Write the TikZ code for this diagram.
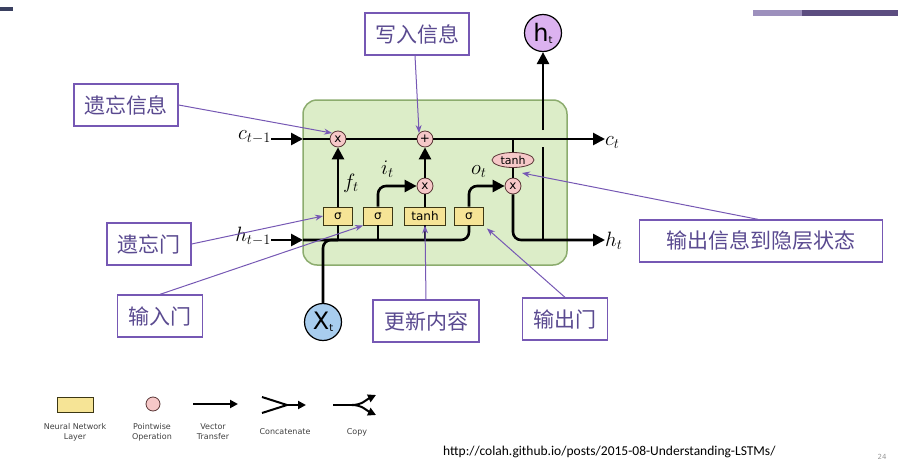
\documentclass[tikz,border=0pt]{standalone}
\usepackage{fontspec}
\setsansfont{DejaVu Sans}
\newfontfamily\cjk{Noto Sans CJK SC}
\newfontfamily\carlito{Carlito}
\usetikzlibrary{calc, arrows.meta, shapes.geometric}
\definecolor{cellgreen}{RGB}{220,237,200}
\definecolor{cellline}{RGB}{140,172,110}
\definecolor{layerfill}{RGB}{246,228,150}
\definecolor{layerline}{RGB}{60,55,20}
\definecolor{opfill}{RGB}{246,200,200}
\definecolor{opline}{RGB}{90,55,55}
\definecolor{xblue}{RGB}{168,205,238}
\definecolor{hlilac}{RGB}{220,178,240}
\definecolor{notepurple}{RGB}{118,88,180}
\definecolor{notetext}{RGB}{90,74,144}
\definecolor{barlight}{RGB}{157,144,189}
\definecolor{bardark}{RGB}{92,77,128}
\definecolor{topnavy}{RGB}{58,64,96}
\tikzset{
  cellbase/.style={draw=cellline, fill=cellgreen, line width=1.5pt, rounded corners=14pt,
    minimum width=264pt, minimum height=165pt, inner sep=0pt},
  layerbox/.style={draw=layerline, fill=layerfill, line width=0.9pt, minimum width=29pt,
    minimum height=18pt, inner sep=0pt, font=\sffamily\fontsize{12}{12}\selectfont},
  opbase/.style={circle, draw=opline, fill=opfill, line width=0.8pt, minimum size=16pt,
    inner sep=0pt, font=\sffamily\fontsize{12}{12}\selectfont},
  tanhop/.style={ellipse, draw=opline, fill=opfill, line width=0.8pt, minimum width=42pt,
    minimum height=15pt, inner sep=0pt, font=\sffamily\fontsize{11}{11}\selectfont},
  inbase/.style={circle, draw=black, line width=1.2pt, minimum size=37pt, inner sep=0pt,
    font=\sffamily},
  mathlabel/.style={inner sep=0pt, font=\fontsize{20.74}{24}\selectfont},
  flowline/.style={line width=2.6pt, rounded corners=8pt},
  flowarrow/.style={flowline, -{Triangle[length=12pt, width=12pt]}},
  notebox/.style={draw=notepurple, fill=white, line width=1.3pt, text=notetext,
    minimum height=42pt, inner xsep=10pt, font=\cjk\fontsize{21}{21}\selectfont},
  notearrow/.style={draw=notepurple, line width=1pt, -{Stealth[length=8pt, width=6pt]}},
  legendline/.style={line width=2pt},
  legendarrow/.style={legendline, -{Triangle[length=8pt, width=8pt]}},
  legendtext/.style={align=center, font=\sffamily\fontsize{8}{10}\selectfont, text=black!75},
}
\newcommand{\invar}[2]{{\fontsize{24}{24}\selectfont #1}\raisebox{-2pt}{\fontsize{10}{10}\selectfont #2}}

\begin{document}
\begin{tikzpicture}[x=1pt, y=-1pt]
  \useasboundingbox (0,0) rectangle (898,474);
  \fill[topnavy] (0,7) rectangle (13,11);
  \fill[barlight] (753,10) rectangle (802,16);
  \fill[bardark] (802,10) rectangle (898,16);

  \node[cellbase] (cell) at (435,182.5) {};

  \node[mathlabel, anchor=base east] (ctm1) at (271,139) {$c_{t-1}$};
  \node[mathlabel, anchor=base east] (htm1) at (271,241) {$h_{t-1}$};
  \node[mathlabel, anchor=base west] (ct) at (605,145) {$c_t$};
  \node[mathlabel, anchor=base west] (ht) at (605,246) {$h_t$};
  \node[mathlabel, anchor=base west] (ft) at (343,188) {$f_t$};
  \node[mathlabel, anchor=base west] (it) at (381,174) {$i_t$};
  \node[mathlabel, anchor=base west] (ot) at (471,174) {$o_t$};

  \node[opbase] (fx) at (338,139) {x};
  \node[opbase] (addp) at (425,139) {+};
  \node[opbase] (ix) at (425,186) {x};
  \node[opbase] (ox) at (513,186) {x};
  \node[tanhop] (tanhc) at (513,160) {tanh};

  \node[layerbox] (sgf) at (338,216) {σ};
  \node[layerbox] (sgi) at (378,216) {σ};
  \node[layerbox, minimum width=41pt] (tnh) at (425,216) {tanh};
  \node[layerbox] (sgo) at (469,216) {σ};

  \node[inbase, fill=xblue] (xt) at (323,322) {\invar{X}{t}};
  \node[inbase, fill=hlilac] (hout) at (543,33) {\invar{h}{t}};

  \coordinate (cleft) at (303,139);
  \coordinate (hleft) at (303,240);
  \coordinate (ctap) at (513,139);
  \coordinate (hjoin) at (543,240);

  \draw[flowarrow] (ctm1.east |- cleft) -- (cleft);
  \draw[flowline] (cleft) -- (fx);
  \draw[flowline] (fx) -- (addp);
  \draw[flowarrow] (addp) -- (ct.west |- addp);
  \draw[flowline] (ctap) -- (tanhc);
  \draw[flowline] (tanhc) -- (ox);
  \draw[flowarrow] (ox) -- (ox |- hleft) -- (ht.west |- hleft);
  \draw[flowline] (hjoin) -- ++(0,-93);
  \draw[flowarrow] (hjoin |- 0,130) -- (hout);

  \draw[flowarrow] (htm1.east |- hleft) -- (hleft);
  \draw[flowline] (hleft) -- (sgo |- hleft) -- (sgo.south);
  \draw[flowline] (xt) -- (xt |- hleft) -- (sgf |- hleft);
  \draw[flowline] (sgf |- hleft) -- (sgf.south);
  \draw[flowline] (sgi |- hleft) -- (sgi.south);
  \draw[flowline] (tnh |- hleft) -- (tnh.south);
  \draw[flowarrow] (sgf) -- (fx);
  \draw[flowarrow] (sgi) -- (sgi |- ix) -- (ix);
  \draw[flowline] (tnh) -- (ix);
  \draw[flowarrow] (ix) -- (addp);
  \draw[flowarrow] (sgo) -- (sgo |- ix) -- (ox);

  \node[notebox, minimum width=104pt] (nforget) at (126,105) {遗忘信息};
  \node[notebox, minimum width=104pt] (nwrite) at (417,34) {写入信息};
  \node[notebox, minimum width=84pt] (nfgate) at (149,244) {遗忘门};
  \node[notebox, minimum width=85pt] (nigate) at (160,316) {输入门};
  \node[notebox, minimum width=106pt] (nupdate) at (426,321) {更新内容};
  \node[notebox, minimum width=85pt] (nogate) at (565,319) {输出门};
  \node[notebox, minimum width=243pt] (nhidden) at (761,241) {输出信息到隐层状态};

  \draw[notearrow] (nforget.east) -- (fx.north west);
  \draw[notearrow] ([xshift=-2pt]nwrite.south) -- (addp.north west);
  \draw[notearrow] (nfgate.east) -- (sgf.west);
  \draw[notearrow] (nigate.north) -- (sgi.south west);
  \draw[notearrow] (nupdate.north) -- (tnh.south);
  \draw[notearrow] (nogate.north) -- ([xshift=3pt,yshift=-3pt]sgo.south east);
  \draw[notearrow] ([xshift=-3pt]nhidden.north) -- ([xshift=9pt,yshift=13pt]ox.center);

  \node[layerbox, minimum width=36pt, minimum height=15pt] (lglayer) at (75,405) {};
  \node[opbase, minimum size=14pt] (lgop) at (153,404) {};
  \coordinate (lgvs) at (193,404);
  \coordinate (lgve) at (238,404);
  \coordinate (lgca) at (262,397);
  \coordinate (lgcb) at (262,413);
  \coordinate (lgcm) at (287,405);
  \coordinate (lgce) at (306,405);
  \coordinate (lgps) at (333,405);
  \coordinate (lgpm) at (352,405);
  \coordinate (lgpa) at (376,395);
  \coordinate (lgpb) at (376,415);
  \draw[legendarrow] (lgvs) -- (lgve);
  \draw[legendline] (lgca) -- (lgcm) -- (lgcb);
  \draw[legendarrow] (lgcm) -- (lgce);
  \draw[legendline] (lgps) -- (lgpm);
  \draw[legendarrow] (lgpm) to[out=0, in=205] (lgpa);
  \draw[legendarrow] (lgpm) to[out=0, in=155] (lgpb);
  \node[legendtext] (lgtlayer) at (75,432) {Neural Network\\Layer};
  \node[legendtext] (lgtop) at (152,432) {Pointwise\\Operation};
  \node[legendtext] (lgtvec) at (213,432) {Vector\\Transfer};
  \node[legendtext] (lgtcat) at (285,432) {Concatenate};
  \node[legendtext] (lgtcopy) at (357,432) {Copy};

  \node[anchor=west, inner sep=0pt, font=\carlito\fontsize{13.5}{14}\selectfont] (src) at (443,452)
    {http://colah.github.io/posts/2015-08-Understanding-LSTMs/};
  \node[inner sep=0pt, text=black!40, font=\sffamily\fontsize{7}{8}\selectfont] (pnum) at (882,457) {24};
\end{tikzpicture}
\end{document}
